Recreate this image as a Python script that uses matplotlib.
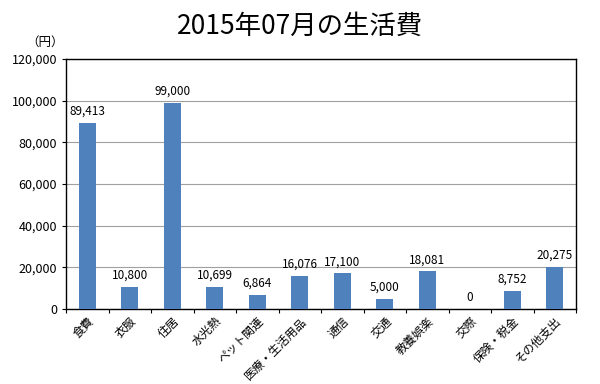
import numpy as np
import matplotlib
matplotlib.use("Agg")
import matplotlib.pyplot as plt
from matplotlib.ticker import FuncFormatter, MultipleLocator

plt.rcParams['font.family'] = ['Noto Sans CJK JP', 'DejaVu Sans']

# 2015年07月の生活費
categories = ['食費', '衣服', '住居', '水光熱', 'ペット関連', '医療・生活用品',
              '通信', '交通', '教養娯楽', '交際', '保険・税金', 'その他支出']
values = [89413, 10800, 99000, 10699, 6864, 16076,
          17100, 5000, 18081, 0, 8752, 20275]

fig = plt.figure(figsize=(6, 3.84), dpi=100)
ax = fig.add_axes([0.11, 0.195, 0.85, 0.651])

x = np.arange(len(categories))
ax.bar(x, values, width=0.4, color='#4F81BD', zorder=3)

for xi, v in zip(x, values):
    ax.text(xi, v + 2500, f'{v:,}', ha='center', va='bottom', fontsize=8.5, color='black')

ax.set_xlim(-0.5, len(categories) - 0.5)
ax.set_ylim(0, 120000)
ax.yaxis.set_major_locator(MultipleLocator(20000))
ax.yaxis.set_major_formatter(FuncFormatter(lambda v, p: f'{int(v):,}'))
ax.grid(axis='y', color='#a0a0a0', linewidth=0.8, zorder=0)

# ticks between categories
ax.set_xticks(np.arange(-0.5, len(categories), 1), minor=False)
ax.set_xticklabels([])
ax.set_xticks(x, minor=True)
ax.set_xticklabels(categories, minor=True, rotation=45, ha='right',
                   rotation_mode='anchor', fontsize=8.5)
ax.tick_params(axis='x', which='minor', length=0, pad=4)
ax.tick_params(axis='x', which='major', length=3, direction='out')
ax.tick_params(axis='y', length=3, labelsize=9)

for s in ax.spines.values():
    s.set_color('black')
    s.set_linewidth(1)

fig.text(0.5, 0.932, '2015年07月の生活費', ha='center', va='center', fontsize=19)
fig.text(0.075, 0.89, '（円）', ha='center', va='center', fontsize=9)

fig.savefig('out.png', dpi=100)
